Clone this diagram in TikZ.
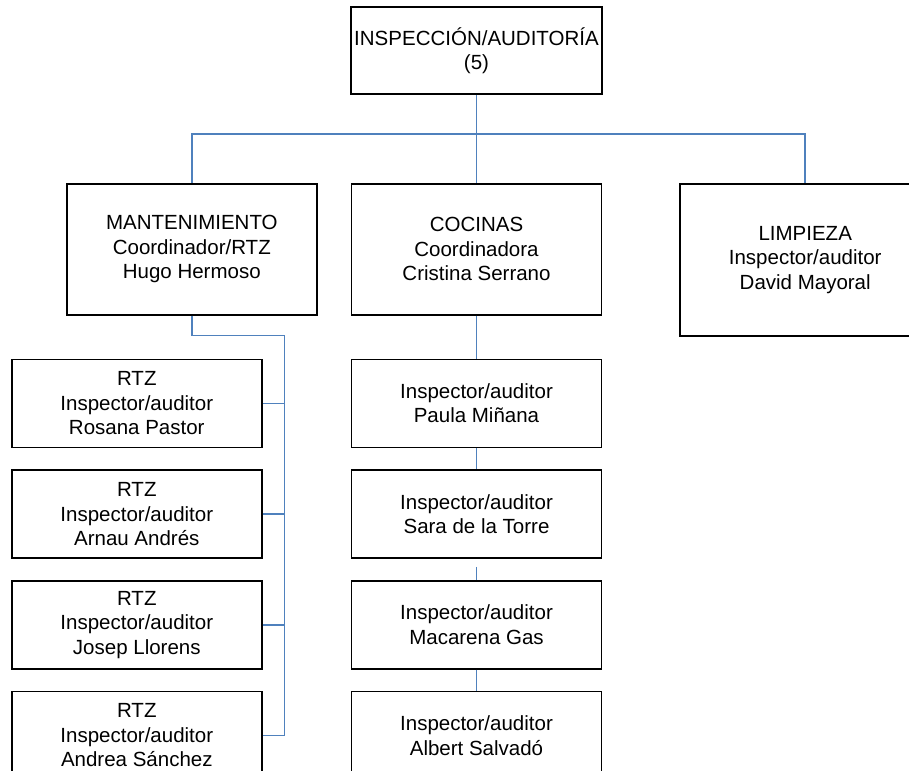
\documentclass[tikz,border=0pt]{standalone}
\usepackage{fontspec}
\setmainfont{Liberation Sans}
\usetikzlibrary{positioning,calc}
\definecolor{linkblue}{RGB}{79,129,189}

\begin{document}
\begin{tikzpicture}
% Draw Org Chart
   \useasboundingbox (0,0) rectangle (909pt,-770pt);
   \clip (0,0) rectangle (909pt,-770pt);
   \begin{scope}[ node distance=21pt,
                   unit/.style={rectangle,draw,line width=1.7pt,minimum width=250pt,align=center,
                                font=\fontsize{20.5}{24.5}\selectfont},
                   head/.style={unit,minimum height=131pt},
                   staff/.style={unit,minimum height=88pt},
                   link/.style={draw=linkblue,line width=1.5pt} ]
     \node [unit,minimum height=87pt] (insp) at (476.5pt,-50.5pt) {INSPECCIÓN/AUDITORÍA\\(5)};
     \node [head]  (coc)   [below=88pt of insp]   {COCINAS\\Coordinadora\\Cristina Serrano};
     \node [head]  (mant)  [left=33pt of coc]     {MANTENIMIENTO\\Coordinador/RTZ\\Hugo Hermoso};
     \node [head,minimum height=152pt] (limp) [right=77pt of coc.north east,anchor=north west]
                                                 {LIMPIEZA\\Inspector/auditor\\David Mayoral};
     % mantenimiento team
     \node [staff] (rosana) [below left=43pt and 55pt of mant.south west,anchor=north west]
                                                 {RTZ\\Inspector/auditor\\Rosana Pastor};
     \node [staff] (arnau)  [below=of rosana]    {RTZ\\Inspector/auditor\\Arnau Andrés};
     \node [staff] (josep)  [below=of arnau]     {RTZ\\Inspector/auditor\\Josep Llorens};
     \node [staff] (andrea) [below=of josep]     {RTZ\\Inspector/auditor\\Andrea Sánchez};
     % cocinas team
     \node [staff] (paula)  [below=43pt of coc]  {Inspector/auditor\\Paula Miñana};
     \node [staff] (sara)   [below=of paula]     {Inspector/auditor\\Sara de la Torre};
     \node [staff] (maca)   [below=of sara]      {Inspector/auditor\\Macarena Gas};
     \node [staff] (albert) [below=of maca]      {Inspector/auditor\\Albert Salvadó};
     % connectors
     \coordinate [below=39pt of insp.south] (bus);
     \coordinate [below=20pt of mant.south] (mdrop);
     \coordinate [right=22pt of rosana.east] (spine);
     \draw [link] (insp) -- (coc);
     \draw [link] (mant.north) |- (bus) -| (limp.north);
     \draw [link] (mant.south) -- (mdrop) -| (spine |- andrea.east) -- (andrea.east);
     \foreach \n in {rosana,arnau,josep}
        \draw [link] (\n.east) -- (spine |- \n.east);
     \draw [link] (coc) -- (paula);
     \draw [link] (paula) -- (sara);
     \draw [link,shorten <=8pt] (sara) -- (maca);
     \draw [link] (maca) -- (albert);
   \end{scope}
\end{tikzpicture}
\end{document}
